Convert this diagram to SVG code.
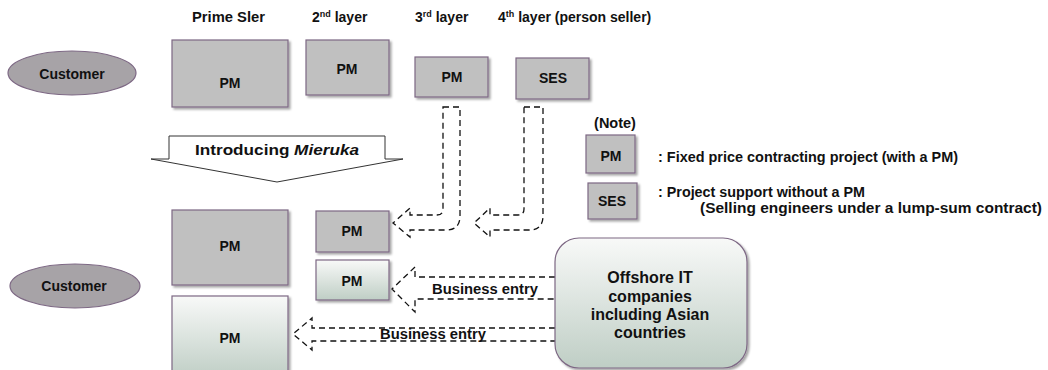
<svg xmlns="http://www.w3.org/2000/svg" width="1048" height="370" viewBox="0 0 1048 370">
<defs>
<linearGradient id="gGreen" x1="0" y1="0" x2="0" y2="1">
<stop offset="0" stop-color="#f8f9f8"/>
<stop offset="1" stop-color="#bfcec5"/>
</linearGradient>
<filter id="sh" x="-10%" y="-10%" width="130%" height="130%">
<feDropShadow dx="2" dy="2" stdDeviation="1" flood-color="#000" flood-opacity="0.35"/>
</filter>
<style>
text{font-family:"Liberation Sans",Arial,sans-serif;font-weight:bold;fill:#111;}
.box{fill:#c0c0c0;stroke:#7d6884;stroke-width:1.2;filter:url(#sh);}
.gbox{fill:url(#gGreen);stroke:#7d6884;stroke-width:1.2;filter:url(#sh);}
.ell{fill:#a7a3a7;stroke:#7d6884;stroke-width:1.2;}
.lbl{font-size:14px;text-anchor:middle;}
.hdr{font-size:14px;}
.note{font-size:14.5px;}
.dash{fill:#fff;stroke:#111;stroke-width:1.3;stroke-dasharray:6 4;}
.dashopen{fill:none;stroke:#111;stroke-width:1.3;stroke-dasharray:6 4;}
</style>
</defs>

<!-- headers -->
<g id="headers">
<text class="hdr" x="192" y="22" textLength="73" lengthAdjust="spacingAndGlyphs">Prime Sler</text>
<text class="hdr" x="312" y="22">2<tspan font-size="9" dy="-5">nd</tspan><tspan dy="5">  layer</tspan></text>
<text class="hdr" x="415" y="22">3<tspan font-size="9" dy="-5">rd</tspan><tspan dy="5"> layer</tspan></text>
<text class="hdr" x="498" y="22">4<tspan font-size="9" dy="-5">th</tspan><tspan dy="5">  layer (person seller)</tspan></text>
</g>

<!-- top row -->
<g id="customer-top">
<ellipse class="ell" cx="72" cy="73" rx="64" ry="22"/>
<text class="lbl" x="72" y="79">Customer</text>
</g>
<g id="pm-prime-top">
<rect class="box" x="172" y="40" width="116" height="67"/>
<text class="lbl" x="230" y="88">PM</text>
</g>
<g id="pm-2nd-top">
<rect class="box" x="306" y="40" width="83" height="55"/>
<text class="lbl" x="347" y="74">PM</text>
</g>
<g id="pm-3rd-top">
<rect class="box" x="415" y="57" width="73" height="40"/>
<text class="lbl" x="452" y="82">PM</text>
</g>
<g id="ses-4th-top">
<rect class="box" x="516" y="58" width="73" height="41"/>
<text class="lbl" x="553" y="83">SES</text>
</g>

<!-- introducing arrow -->
<g id="introducing">
<polygon points="169,136 385,136 385,159 403,159 277,182 151,159 169,159" fill="#fff" stroke="#333" stroke-width="1"/>
<text x="277" y="155" text-anchor="middle" font-size="15" textLength="164" lengthAdjust="spacingAndGlyphs">Introducing <tspan font-style="italic">Mieruka</tspan></text>
</g>

<!-- note -->
<g id="note">
<text x="615" y="128" font-size="14.5" text-anchor="middle">(Note)</text>
<rect class="box" x="586" y="135" width="49" height="38"/>
<text class="lbl" x="611" y="161">PM</text>
<text class="note" x="658" y="162" textLength="300" lengthAdjust="spacingAndGlyphs">: Fixed price contracting project (with a PM)</text>
<rect class="box" x="588" y="183" width="49" height="36"/>
<text class="lbl" x="612" y="206">SES</text>
<text class="note" x="658" y="197" textLength="207" lengthAdjust="spacingAndGlyphs">: Project support without a PM</text>
<text class="note" x="700" y="213" textLength="342" lengthAdjust="spacingAndGlyphs">(Selling engineers under a lump-sum contract)</text>
</g>

<!-- connectors -->
<g id="connectors">
<path class="dash" d="M443 107 H460 V216 Q460 230 446 230 H410 V237 L393 223 L410 208 V215 H437 Q443 215 443 209 Z"/>
<path class="dash" d="M524 107 H543 V216 Q543 230 529 230 H490 V237 L474 223 L490 208 V215 H518 Q524 215 524 209 Z"/>
<path class="dashopen" d="M555 277 H415 V267 L392 289 L415 312 V299 H555"/>
<path class="dashopen" d="M555 328 H312 V318 L293 334 L312 350 V341 H555"/>
<text x="485" y="294" font-size="14" text-anchor="middle" textLength="106" lengthAdjust="spacingAndGlyphs">Business entry</text>
<text x="433" y="339" font-size="14" text-anchor="middle" textLength="106" lengthAdjust="spacingAndGlyphs">Business entry</text>
</g>

<!-- bottom row -->
<g id="customer-bottom">
<ellipse class="ell" cx="75" cy="286" rx="65" ry="22"/>
<text class="lbl" x="74" y="291">Customer</text>
</g>
<g id="pm-prime-bottom">
<rect class="box" x="172" y="210" width="116" height="75"/>
<text class="lbl" x="230" y="251">PM</text>
</g>
<g id="pm-prime-offshore">
<rect class="gbox" x="172" y="296" width="116" height="82"/>
<text class="lbl" x="230" y="343">PM</text>
</g>
<g id="pm-2nd-bottom">
<rect class="box" x="316" y="211" width="73" height="41"/>
<text class="lbl" x="352" y="236">PM</text>
</g>
<g id="pm-2nd-offshore">
<rect class="gbox" x="316" y="260" width="73" height="40"/>
<text class="lbl" x="352" y="286">PM</text>
</g>
<g id="offshore">
<rect class="gbox" x="555" y="238" width="192" height="130" rx="24" ry="24"/>
<text x="650" y="283" font-size="16" text-anchor="middle">Offshore IT</text>
<text x="650" y="302" font-size="16" text-anchor="middle">companies</text>
<text x="650" y="320" font-size="16" text-anchor="middle">including Asian</text>
<text x="650" y="338" font-size="16" text-anchor="middle">countries</text>
</g>
</svg>
